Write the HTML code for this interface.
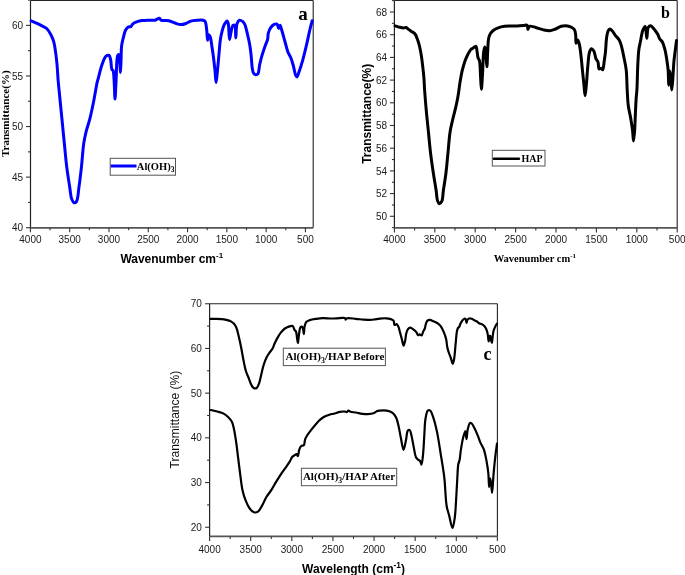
<!DOCTYPE html><html><head><meta charset="utf-8"><title>FTIR spectra</title><style>
html,body{margin:0;padding:0;background:#fff;width:685px;height:575px;overflow:hidden}
svg{display:block}
.tl{font-family:'Liberation Sans', Arial, sans-serif;font-size:10px;fill:#1a1a1a}
.fr{stroke:#222;stroke-width:1.1}
.axl{stroke:#222;stroke-width:1.2}
.axb{stroke:#555;stroke-width:1.8}
.tk{stroke:#333;stroke-width:1.1}
.cv{fill:none;stroke-linejoin:round;stroke-linecap:round}
.sb{font-family:'Liberation Serif', 'Times New Roman', serif;font-weight:bold;fill:#000}
.nb{font-family:'Liberation Sans', Arial, sans-serif;font-weight:bold;fill:#000}
.nr{font-family:'Liberation Sans', Arial, sans-serif;fill:#111}
.lg{fill:#fff;stroke:#555;stroke-width:1}
</style></head><body>
<svg width="685" height="575" viewBox="0 0 685 575">
<rect width="685" height="575" fill="#fff"/>
<g class="ax">
<line x1="30.5" y1="0.5" x2="313.2" y2="0.5" class="fr"/>
<line x1="313.2" y1="0.5" x2="313.2" y2="227.8" class="fr"/>
<line x1="30.5" y1="0.5" x2="30.5" y2="227.8" class="axl"/>
<line x1="30.5" y1="227.8" x2="313.2" y2="227.8" class="axb"/>
<line x1="30.40" y1="227.8" x2="30.40" y2="232.3" class="tk"/>
<text x="30.40" y="243.2" class="tl" text-anchor="middle">4000</text>
<line x1="69.69" y1="227.8" x2="69.69" y2="232.3" class="tk"/>
<text x="69.69" y="243.2" class="tl" text-anchor="middle">3500</text>
<line x1="108.98" y1="227.8" x2="108.98" y2="232.3" class="tk"/>
<text x="108.98" y="243.2" class="tl" text-anchor="middle">3000</text>
<line x1="148.27" y1="227.8" x2="148.27" y2="232.3" class="tk"/>
<text x="148.27" y="243.2" class="tl" text-anchor="middle">2500</text>
<line x1="187.57" y1="227.8" x2="187.57" y2="232.3" class="tk"/>
<text x="187.57" y="243.2" class="tl" text-anchor="middle">2000</text>
<line x1="226.86" y1="227.8" x2="226.86" y2="232.3" class="tk"/>
<text x="226.86" y="243.2" class="tl" text-anchor="middle">1500</text>
<line x1="266.15" y1="227.8" x2="266.15" y2="232.3" class="tk"/>
<text x="266.15" y="243.2" class="tl" text-anchor="middle">1000</text>
<line x1="305.44" y1="227.8" x2="305.44" y2="232.3" class="tk"/>
<text x="305.44" y="243.2" class="tl" text-anchor="middle">500</text>
<line x1="50.05" y1="227.8" x2="50.05" y2="230.3" class="tk"/>
<line x1="89.34" y1="227.8" x2="89.34" y2="230.3" class="tk"/>
<line x1="128.63" y1="227.8" x2="128.63" y2="230.3" class="tk"/>
<line x1="167.92" y1="227.8" x2="167.92" y2="230.3" class="tk"/>
<line x1="207.21" y1="227.8" x2="207.21" y2="230.3" class="tk"/>
<line x1="246.50" y1="227.8" x2="246.50" y2="230.3" class="tk"/>
<line x1="285.80" y1="227.8" x2="285.80" y2="230.3" class="tk"/>
<line x1="26.0" y1="227.70" x2="30.5" y2="227.70" class="tk"/>
<text x="23.2" y="231.30" class="tl" text-anchor="end">40</text>
<line x1="26.0" y1="177.12" x2="30.5" y2="177.12" class="tk"/>
<text x="23.2" y="180.72" class="tl" text-anchor="end">45</text>
<line x1="26.0" y1="126.55" x2="30.5" y2="126.55" class="tk"/>
<text x="23.2" y="130.15" class="tl" text-anchor="end">50</text>
<line x1="26.0" y1="75.97" x2="30.5" y2="75.97" class="tk"/>
<text x="23.2" y="79.57" class="tl" text-anchor="end">55</text>
<line x1="26.0" y1="25.40" x2="30.5" y2="25.40" class="tk"/>
<text x="23.2" y="29.00" class="tl" text-anchor="end">60</text>
<line x1="28.0" y1="202.41" x2="30.5" y2="202.41" class="tk"/>
<line x1="28.0" y1="151.84" x2="30.5" y2="151.84" class="tk"/>
<line x1="28.0" y1="101.26" x2="30.5" y2="101.26" class="tk"/>
<line x1="28.0" y1="50.69" x2="30.5" y2="50.69" class="tk"/>
<line x1="28.0" y1="0.11" x2="30.5" y2="0.11" class="tk"/>
</g>
<path class="cv" d="M31.10,20.90 C32.08,21.32 35.08,22.51 37.00,23.40 C38.88,24.28 40.80,25.30 42.50,26.20 C44.00,26.99 45.43,27.33 46.70,28.50 C48.30,29.97 49.73,32.59 50.90,34.80 C52.06,36.99 52.94,39.08 53.70,41.70 C54.64,44.94 55.14,49.05 55.70,52.90 C56.29,56.94 56.71,61.07 57.10,65.40 C57.52,70.07 57.70,75.16 58.10,80.00 C58.50,84.79 58.97,88.90 59.50,94.30 C60.19,101.35 61.10,110.58 61.90,118.70 C62.70,126.81 63.48,134.89 64.30,143.00 C65.12,151.13 65.84,159.73 66.80,167.40 C67.66,174.27 68.80,181.18 69.70,186.90 C70.41,191.42 70.62,196.20 71.70,199.00 C72.35,200.68 73.17,202.45 74.10,202.70 C74.82,202.90 75.83,202.40 76.50,201.50 C78.07,199.39 78.23,192.13 79.00,186.90 C79.89,180.88 80.64,174.27 81.40,167.40 C82.25,159.73 82.78,149.70 83.80,143.00 C84.52,138.24 85.29,134.92 86.30,130.90 C87.32,126.82 88.77,123.13 89.90,118.70 C91.23,113.52 92.42,107.57 93.60,101.70 C94.86,95.43 96.34,85.98 97.20,82.20 C97.56,80.63 97.69,80.38 98.10,78.90 C98.94,75.83 100.50,68.87 102.00,64.80 C103.21,61.52 104.39,57.54 106.00,56.20 C106.94,55.42 108.34,54.99 109.10,55.40 C110.05,55.91 110.27,58.24 110.70,60.10 C111.30,62.67 111.09,68.13 111.90,69.50 C112.21,70.02 112.70,69.77 113.00,70.30 C113.83,71.74 113.79,76.52 114.10,80.40 C114.51,85.66 114.67,99.00 115.00,99.00 C115.33,99.00 115.69,87.06 116.10,80.40 C116.58,72.68 116.32,57.90 117.70,55.40 C118.02,54.82 118.50,54.47 118.80,54.60 C119.48,54.89 119.45,59.08 119.70,61.70 C120.01,64.94 120.18,72.60 120.40,72.60 C120.62,72.60 120.82,65.66 121.00,61.70 C121.22,56.94 121.08,50.31 121.60,46.00 C121.97,42.93 122.56,40.80 123.20,38.20 C123.85,35.56 124.50,32.26 125.50,30.30 C126.19,28.95 126.92,27.85 127.90,27.20 C128.79,26.62 130.21,26.95 131.00,26.40 C131.74,25.88 131.81,24.79 132.60,24.10 C133.68,23.15 135.70,22.29 137.30,21.70 C138.83,21.14 140.31,20.85 142.00,20.60 C143.91,20.32 146.08,20.27 148.20,20.20 C150.41,20.13 153.02,20.61 155.00,20.20 C156.67,19.86 158.36,18.05 159.40,18.30 C160.15,18.48 160.13,19.76 161.00,20.20 C162.54,20.98 166.38,20.19 168.80,20.70 C171.02,21.17 172.98,22.33 175.00,23.00 C176.88,23.62 178.66,24.52 180.50,24.60 C182.32,24.68 184.28,24.10 186.00,23.50 C187.67,22.92 188.97,21.65 190.70,21.10 C192.60,20.50 194.90,20.35 197.00,20.20 C199.07,20.05 201.77,19.79 203.20,20.20 C204.06,20.45 204.59,20.65 205.10,21.40 C206.11,22.89 206.29,27.00 206.70,30.00 C207.14,33.24 207.19,40.18 207.60,40.20 C207.91,40.22 208.11,34.82 208.70,34.70 C209.12,34.62 209.86,35.99 210.30,37.10 C211.07,39.03 211.31,42.65 211.80,45.70 C212.35,49.14 212.89,52.81 213.40,56.70 C213.97,61.08 214.54,66.23 215.00,70.70 C215.43,74.80 215.70,82.50 216.10,82.50 C216.47,82.50 216.90,76.14 217.30,72.30 C217.83,67.31 218.37,60.70 218.90,55.10 C219.40,49.75 219.75,43.71 220.40,39.40 C220.86,36.34 221.33,34.11 222.00,31.60 C222.64,29.18 223.27,26.46 224.30,24.60 C225.11,23.14 226.52,20.99 227.20,21.10 C227.75,21.18 227.99,22.49 228.30,23.80 C229.01,26.82 228.93,39.36 229.50,39.40 C229.86,39.42 230.35,35.27 230.80,33.20 C231.25,31.11 231.67,28.28 232.20,26.90 C232.48,26.16 232.66,25.56 233.10,25.30 C233.51,25.06 234.27,24.91 234.70,25.30 C235.90,26.40 235.43,37.90 235.80,37.90 C236.19,37.90 235.93,26.87 237.00,23.80 C237.59,22.10 238.40,20.52 239.40,20.20 C240.28,19.92 241.61,20.73 242.50,21.40 C243.47,22.14 244.21,23.19 244.90,24.60 C245.92,26.70 246.46,30.15 247.20,33.20 C248.03,36.61 248.95,40.45 249.60,44.10 C250.25,47.75 250.68,51.31 251.10,55.10 C251.55,59.13 251.67,64.29 252.20,67.60 C252.56,69.82 252.68,71.90 253.50,73.10 C254.08,73.95 255.03,74.61 255.80,74.70 C256.49,74.78 257.33,74.58 257.90,73.90 C259.07,72.51 259.00,67.62 259.70,64.50 C260.40,61.36 261.19,58.22 262.10,55.10 C263.02,51.95 264.20,48.51 265.20,45.70 C266.02,43.38 267.08,41.52 267.60,39.40 C268.10,37.36 267.77,35.17 268.30,33.20 C268.82,31.27 269.68,29.20 270.70,27.70 C271.57,26.42 272.65,25.18 273.80,24.60 C274.78,24.10 276.19,23.64 277.00,24.10 C277.98,24.65 278.25,28.50 278.80,28.50 C279.27,28.50 279.66,25.29 280.10,25.30 C280.63,25.32 281.11,28.10 281.70,30.00 C282.60,32.89 283.77,37.33 284.80,41.00 C285.83,44.67 286.70,48.90 287.90,52.00 C288.83,54.41 290.11,55.98 291.00,58.20 C291.97,60.61 292.65,63.27 293.40,66.00 C294.22,68.98 294.82,73.62 295.70,75.40 C296.11,76.22 296.58,77.06 297.00,77.00 C297.66,76.90 298.20,74.26 298.90,72.30 C300.03,69.15 301.56,64.22 302.80,59.80 C304.18,54.88 305.51,49.20 306.70,44.10 C307.83,39.28 308.80,34.20 309.80,30.00 C310.62,26.57 311.80,22.25 312.20,20.70" stroke="#0000ff" stroke-width="3"/>
<text class="nb" x="120.4" y="262.8" font-size="12">Wavenumber cm<tspan dy="-4.5" font-size="8">-1</tspan></text>
<text class="sb" transform="translate(8.5,113.7) rotate(-90)" text-anchor="middle" font-size="11">Transmittance(%)</text>
<text class="sb" x="298.3" y="19.8" font-size="19">a</text>
<rect class="lg" x="110.2" y="158.3" width="65.3" height="16.9"/>
<line x1="110.7" y1="166" x2="136.5" y2="166" stroke="#0000ff" stroke-width="3"/>
<text class="sb" x="136.8" y="169.7" font-size="10.5">Al(OH)<tspan dy="2.6" font-size="7.5">3</tspan></text>
<g class="ax">
<line x1="394.4" y1="0.5" x2="677.2" y2="0.5" class="fr"/>
<line x1="677.2" y1="0.5" x2="677.2" y2="227.9" class="fr"/>
<line x1="394.4" y1="0.5" x2="394.4" y2="227.9" class="axl"/>
<line x1="394.4" y1="227.9" x2="677.2" y2="227.9" class="axb"/>
<line x1="394.40" y1="227.9" x2="394.40" y2="232.4" class="tk"/>
<text x="394.40" y="243.0" class="tl" text-anchor="middle">4000</text>
<line x1="434.80" y1="227.9" x2="434.80" y2="232.4" class="tk"/>
<text x="434.80" y="243.0" class="tl" text-anchor="middle">3500</text>
<line x1="475.20" y1="227.9" x2="475.20" y2="232.4" class="tk"/>
<text x="475.20" y="243.0" class="tl" text-anchor="middle">3000</text>
<line x1="515.60" y1="227.9" x2="515.60" y2="232.4" class="tk"/>
<text x="515.60" y="243.0" class="tl" text-anchor="middle">2500</text>
<line x1="556.00" y1="227.9" x2="556.00" y2="232.4" class="tk"/>
<text x="556.00" y="243.0" class="tl" text-anchor="middle">2000</text>
<line x1="596.40" y1="227.9" x2="596.40" y2="232.4" class="tk"/>
<text x="596.40" y="243.0" class="tl" text-anchor="middle">1500</text>
<line x1="636.80" y1="227.9" x2="636.80" y2="232.4" class="tk"/>
<text x="636.80" y="243.0" class="tl" text-anchor="middle">1000</text>
<line x1="677.20" y1="227.9" x2="677.20" y2="232.4" class="tk"/>
<text x="677.20" y="243.0" class="tl" text-anchor="middle">500</text>
<line x1="414.60" y1="227.9" x2="414.60" y2="230.4" class="tk"/>
<line x1="455.00" y1="227.9" x2="455.00" y2="230.4" class="tk"/>
<line x1="495.40" y1="227.9" x2="495.40" y2="230.4" class="tk"/>
<line x1="535.80" y1="227.9" x2="535.80" y2="230.4" class="tk"/>
<line x1="576.20" y1="227.9" x2="576.20" y2="230.4" class="tk"/>
<line x1="616.60" y1="227.9" x2="616.60" y2="230.4" class="tk"/>
<line x1="657.00" y1="227.9" x2="657.00" y2="230.4" class="tk"/>
<line x1="389.9" y1="216.30" x2="394.4" y2="216.30" class="tk"/>
<text x="387.0" y="219.90" class="tl" text-anchor="end">50</text>
<line x1="389.9" y1="193.60" x2="394.4" y2="193.60" class="tk"/>
<text x="387.0" y="197.20" class="tl" text-anchor="end">52</text>
<line x1="389.9" y1="170.90" x2="394.4" y2="170.90" class="tk"/>
<text x="387.0" y="174.50" class="tl" text-anchor="end">54</text>
<line x1="389.9" y1="148.20" x2="394.4" y2="148.20" class="tk"/>
<text x="387.0" y="151.80" class="tl" text-anchor="end">56</text>
<line x1="389.9" y1="125.50" x2="394.4" y2="125.50" class="tk"/>
<text x="387.0" y="129.10" class="tl" text-anchor="end">58</text>
<line x1="389.9" y1="102.80" x2="394.4" y2="102.80" class="tk"/>
<text x="387.0" y="106.40" class="tl" text-anchor="end">60</text>
<line x1="389.9" y1="80.10" x2="394.4" y2="80.10" class="tk"/>
<text x="387.0" y="83.70" class="tl" text-anchor="end">62</text>
<line x1="389.9" y1="57.40" x2="394.4" y2="57.40" class="tk"/>
<text x="387.0" y="61.00" class="tl" text-anchor="end">64</text>
<line x1="389.9" y1="34.70" x2="394.4" y2="34.70" class="tk"/>
<text x="387.0" y="38.30" class="tl" text-anchor="end">66</text>
<line x1="389.9" y1="12.00" x2="394.4" y2="12.00" class="tk"/>
<text x="387.0" y="15.60" class="tl" text-anchor="end">68</text>
<line x1="391.9" y1="227.65" x2="394.4" y2="227.65" class="tk"/>
<line x1="391.9" y1="204.95" x2="394.4" y2="204.95" class="tk"/>
<line x1="391.9" y1="182.25" x2="394.4" y2="182.25" class="tk"/>
<line x1="391.9" y1="159.55" x2="394.4" y2="159.55" class="tk"/>
<line x1="391.9" y1="136.85" x2="394.4" y2="136.85" class="tk"/>
<line x1="391.9" y1="114.15" x2="394.4" y2="114.15" class="tk"/>
<line x1="391.9" y1="91.45" x2="394.4" y2="91.45" class="tk"/>
<line x1="391.9" y1="68.75" x2="394.4" y2="68.75" class="tk"/>
<line x1="391.9" y1="46.05" x2="394.4" y2="46.05" class="tk"/>
<line x1="391.9" y1="23.35" x2="394.4" y2="23.35" class="tk"/>
<line x1="391.9" y1="0.65" x2="394.4" y2="0.65" class="tk"/>
</g>
<path class="cv" d="M395.10,25.90 C395.85,26.12 398.13,26.86 399.60,27.20 C400.99,27.52 402.50,27.89 403.70,27.90 C404.64,27.90 405.48,27.31 406.20,27.50 C406.87,27.68 407.22,28.38 407.90,28.90 C408.85,29.63 410.23,30.58 411.40,31.40 C412.56,32.21 413.92,32.63 414.90,33.80 C416.14,35.28 416.91,37.84 417.70,40.00 C418.52,42.23 419.10,44.46 419.70,47.00 C420.39,49.96 420.98,53.34 421.50,56.70 C422.06,60.29 422.49,64.30 422.90,67.90 C423.28,71.25 423.63,74.17 423.90,77.60 C424.21,81.48 424.28,85.33 424.60,90.00 C425.02,96.06 425.67,103.94 426.30,110.90 C426.93,117.84 427.70,124.76 428.40,131.70 C429.10,138.66 429.67,145.64 430.50,152.60 C431.33,159.57 432.41,166.93 433.40,173.50 C434.28,179.38 435.37,185.29 436.10,190.20 C436.67,194.07 436.71,198.20 437.50,200.60 C437.96,201.99 438.48,203.57 439.20,203.70 C439.89,203.83 441.05,202.76 441.70,201.60 C442.92,199.42 442.78,194.36 443.40,190.20 C444.15,185.16 445.16,179.39 445.90,173.50 C446.72,166.93 447.30,159.57 448.00,152.60 C448.70,145.63 449.15,137.75 450.10,131.70 C450.84,126.98 451.84,123.36 452.80,119.20 C453.77,115.03 455.00,110.68 455.90,106.70 C456.71,103.08 457.35,100.06 458.00,96.30 C458.77,91.88 459.35,86.30 460.10,81.80 C460.76,77.85 461.36,74.27 462.20,70.70 C463.00,67.31 463.97,63.76 465.00,60.90 C465.84,58.57 466.66,56.68 467.70,54.70 C468.73,52.75 470.24,49.88 471.20,49.10 C471.60,48.77 471.85,48.93 472.30,48.70 C473.17,48.26 475.11,45.99 475.90,46.30 C476.73,46.63 476.66,49.27 477.00,51.00 C477.41,53.09 477.53,56.31 478.10,58.00 C478.45,59.05 479.04,59.18 479.40,60.40 C480.29,63.47 480.24,72.42 480.60,77.60 C480.90,81.87 481.11,89.30 481.40,89.30 C481.73,89.30 482.14,80.00 482.50,74.50 C482.95,67.57 483.05,55.51 483.80,51.00 C484.11,49.13 484.58,47.08 484.90,47.10 C485.37,47.13 485.68,52.65 486.00,55.70 C486.36,59.14 486.63,66.70 486.90,66.70 C487.22,66.70 487.41,55.85 487.70,51.00 C487.95,46.81 487.89,42.44 488.50,39.30 C488.93,37.09 489.40,35.35 490.30,33.80 C491.12,32.40 492.23,31.28 493.50,30.30 C494.84,29.26 496.48,28.45 498.20,27.80 C500.08,27.08 502.31,26.60 504.40,26.30 C506.48,26.00 508.60,26.05 510.70,26.00 C512.80,25.95 514.91,26.07 517.00,26.00 C519.08,25.93 521.37,25.75 523.20,25.60 C524.65,25.48 526.31,24.61 527.10,25.20 C527.92,25.81 527.46,29.34 527.90,29.40 C528.29,29.46 528.54,26.77 529.50,26.30 C530.79,25.67 533.52,26.96 535.70,27.50 C538.19,28.12 541.10,29.36 543.60,29.90 C545.77,30.37 547.89,30.84 549.80,30.70 C551.49,30.58 552.82,30.01 554.50,29.40 C556.59,28.64 559.03,26.85 561.30,26.30 C563.37,25.80 565.69,25.77 567.50,26.00 C568.97,26.18 570.22,26.56 571.40,27.20 C572.59,27.85 573.88,28.69 574.60,29.90 C575.42,31.29 575.45,33.32 575.70,35.30 C576.00,37.67 575.57,43.09 576.10,43.20 C576.45,43.27 577.19,39.98 577.70,40.00 C578.26,40.02 578.85,42.33 579.30,44.00 C579.99,46.57 580.33,50.36 580.80,54.10 C581.38,58.75 581.87,64.58 582.40,69.80 C582.93,75.01 583.51,80.75 584.00,85.40 C584.40,89.16 584.72,95.60 585.10,95.60 C585.48,95.60 585.91,89.38 586.30,85.40 C586.85,79.79 587.31,71.05 587.90,65.10 C588.36,60.43 588.54,55.54 589.40,52.60 C589.91,50.88 590.50,48.85 591.30,48.70 C592.01,48.57 593.11,49.87 593.80,51.00 C594.87,52.74 595.12,56.82 596.00,58.80 C596.60,60.15 597.50,60.66 598.00,62.00 C598.68,63.83 598.17,68.46 599.10,69.00 C599.62,69.30 600.60,68.06 601.20,68.20 C601.80,68.34 602.28,69.93 602.70,69.80 C603.58,69.54 603.83,63.39 604.30,60.40 C604.72,57.68 605.06,55.66 605.40,52.60 C605.88,48.28 606.05,40.92 606.70,36.90 C607.11,34.34 607.45,32.03 608.20,30.70 C608.65,29.91 609.19,29.15 609.80,29.10 C610.48,29.04 611.34,29.94 612.10,30.70 C613.18,31.78 614.15,33.78 615.30,35.30 C616.50,36.88 618.18,38.22 619.20,40.00 C620.27,41.87 620.80,43.88 621.50,46.30 C622.41,49.43 623.14,53.51 623.90,57.30 C624.71,61.33 625.66,65.12 626.20,69.80 C626.89,75.71 626.82,83.69 627.20,90.00 C627.53,95.56 627.66,100.78 628.30,105.70 C628.88,110.12 629.98,114.02 630.70,118.20 C631.42,122.38 632.12,126.83 632.60,130.80 C633.02,134.35 633.17,140.90 633.50,140.90 C633.83,140.90 634.30,134.62 634.60,130.80 C634.99,125.81 635.13,119.13 635.40,113.50 C635.66,108.14 635.90,102.12 636.20,97.80 C636.41,94.75 636.69,93.34 636.90,90.00 C637.28,84.01 637.41,72.29 637.80,64.90 C638.11,59.05 638.31,53.53 638.90,49.20 C639.32,46.10 639.91,44.14 640.50,41.30 C641.19,37.96 641.74,33.05 642.80,30.40 C643.48,28.70 644.58,26.37 645.20,26.50 C646.20,26.71 646.28,38.20 646.80,38.20 C647.31,38.20 647.08,29.09 648.30,27.20 C648.92,26.25 649.89,25.61 650.70,25.70 C651.71,25.82 652.76,27.57 653.80,28.80 C655.09,30.33 656.67,32.49 657.70,34.30 C658.60,35.88 658.95,37.65 659.80,39.00 C660.55,40.20 661.65,40.77 662.40,42.10 C663.42,43.91 664.09,46.47 664.80,49.20 C665.72,52.75 666.52,57.82 667.10,61.70 C667.60,65.05 667.94,67.64 668.20,71.10 C668.52,75.32 668.43,85.19 668.70,85.20 C668.97,85.21 669.34,71.12 669.80,71.10 C670.15,71.09 670.68,76.07 671.00,78.90 C671.38,82.25 671.50,89.90 671.80,89.90 C672.12,89.90 672.57,81.81 672.90,77.40 C673.27,72.47 673.45,66.63 673.90,61.70 C674.30,57.29 674.93,52.98 675.40,49.20 C675.79,46.07 676.32,42.03 676.50,40.60" stroke="#000" stroke-width="3"/>
<text class="sb" x="493.7" y="261.9" font-size="10.5">Wavenumber cm<tspan dy="-4" font-size="7">-1</tspan></text>
<text class="nb" transform="translate(371.2,113.8) rotate(-90)" text-anchor="middle" font-size="12">Transmittance(%)</text>
<text class="sb" x="661" y="18.2" font-size="16">b</text>
<rect class="lg" x="492.3" y="150.3" width="52.7" height="15.7"/>
<line x1="494" y1="158.7" x2="518.9" y2="158.7" stroke="#000" stroke-width="2.6" stroke-linecap="round"/>
<text class="sb" x="521.5" y="161.9" font-size="10">HAP</text>
<g class="ax">
<line x1="209.6" y1="303.75" x2="497.4" y2="303.75" class="fr"/>
<line x1="497.4" y1="303.75" x2="497.4" y2="536.4" class="fr"/>
<line x1="209.6" y1="303.75" x2="209.6" y2="536.4" class="axl"/>
<line x1="209.6" y1="536.4" x2="497.4" y2="536.4" class="axb"/>
<line x1="209.60" y1="536.4" x2="209.60" y2="540.9" class="tk"/>
<text x="209.60" y="553.0" class="tl" text-anchor="middle">4000</text>
<line x1="250.71" y1="536.4" x2="250.71" y2="540.9" class="tk"/>
<text x="250.71" y="553.0" class="tl" text-anchor="middle">3500</text>
<line x1="291.83" y1="536.4" x2="291.83" y2="540.9" class="tk"/>
<text x="291.83" y="553.0" class="tl" text-anchor="middle">3000</text>
<line x1="332.94" y1="536.4" x2="332.94" y2="540.9" class="tk"/>
<text x="332.94" y="553.0" class="tl" text-anchor="middle">2500</text>
<line x1="374.06" y1="536.4" x2="374.06" y2="540.9" class="tk"/>
<text x="374.06" y="553.0" class="tl" text-anchor="middle">2000</text>
<line x1="415.17" y1="536.4" x2="415.17" y2="540.9" class="tk"/>
<text x="415.17" y="553.0" class="tl" text-anchor="middle">1500</text>
<line x1="456.29" y1="536.4" x2="456.29" y2="540.9" class="tk"/>
<text x="456.29" y="553.0" class="tl" text-anchor="middle">1000</text>
<line x1="497.40" y1="536.4" x2="497.40" y2="540.9" class="tk"/>
<text x="497.40" y="553.0" class="tl" text-anchor="middle">500</text>
<line x1="230.16" y1="536.4" x2="230.16" y2="538.9" class="tk"/>
<line x1="271.27" y1="536.4" x2="271.27" y2="538.9" class="tk"/>
<line x1="312.39" y1="536.4" x2="312.39" y2="538.9" class="tk"/>
<line x1="353.50" y1="536.4" x2="353.50" y2="538.9" class="tk"/>
<line x1="394.61" y1="536.4" x2="394.61" y2="538.9" class="tk"/>
<line x1="435.73" y1="536.4" x2="435.73" y2="538.9" class="tk"/>
<line x1="476.84" y1="536.4" x2="476.84" y2="538.9" class="tk"/>
<line x1="205.1" y1="527.25" x2="209.6" y2="527.25" class="tk"/>
<text x="201.9" y="530.85" class="tl" text-anchor="end">20</text>
<line x1="205.1" y1="482.55" x2="209.6" y2="482.55" class="tk"/>
<text x="201.9" y="486.15" class="tl" text-anchor="end">30</text>
<line x1="205.1" y1="437.85" x2="209.6" y2="437.85" class="tk"/>
<text x="201.9" y="441.45" class="tl" text-anchor="end">40</text>
<line x1="205.1" y1="393.15" x2="209.6" y2="393.15" class="tk"/>
<text x="201.9" y="396.75" class="tl" text-anchor="end">50</text>
<line x1="205.1" y1="348.45" x2="209.6" y2="348.45" class="tk"/>
<text x="201.9" y="352.05" class="tl" text-anchor="end">60</text>
<line x1="205.1" y1="303.75" x2="209.6" y2="303.75" class="tk"/>
<text x="201.9" y="307.35" class="tl" text-anchor="end">70</text>
<line x1="207.1" y1="504.90" x2="209.6" y2="504.90" class="tk"/>
<line x1="207.1" y1="460.20" x2="209.6" y2="460.20" class="tk"/>
<line x1="207.1" y1="415.50" x2="209.6" y2="415.50" class="tk"/>
<line x1="207.1" y1="370.80" x2="209.6" y2="370.80" class="tk"/>
<line x1="207.1" y1="326.10" x2="209.6" y2="326.10" class="tk"/>
</g>
<path class="cv" d="M210.30,318.80 C211.38,318.80 214.81,318.74 216.80,318.80 C218.49,318.85 219.94,318.92 221.50,319.10 C223.07,319.28 224.65,319.52 226.20,319.90 C227.78,320.28 229.55,320.69 230.90,321.40 C232.10,322.03 233.11,322.81 234.00,323.80 C234.96,324.87 235.70,326.08 236.40,327.70 C237.37,329.95 237.96,333.25 238.70,336.30 C239.53,339.73 240.34,343.51 241.10,347.30 C241.91,351.33 242.59,355.78 243.40,359.80 C244.16,363.56 244.79,367.39 245.80,370.70 C246.68,373.58 247.94,376.12 248.90,378.60 C249.75,380.79 250.39,383.12 251.30,384.80 C252.00,386.09 252.62,387.50 253.60,388.00 C254.47,388.44 255.85,388.52 256.70,388.00 C257.81,387.32 258.40,385.18 259.10,383.30 C260.05,380.75 260.62,377.03 261.40,373.90 C262.18,370.76 262.84,367.46 263.80,364.50 C264.69,361.75 265.74,358.92 266.90,356.70 C267.85,354.88 269.01,353.40 270.00,352.00 C270.83,350.82 271.68,350.06 272.40,348.80 C273.28,347.26 273.83,345.17 274.70,343.30 C275.64,341.28 276.79,339.00 277.90,337.10 C278.90,335.40 279.83,333.84 281.00,332.40 C282.16,330.98 283.51,329.49 284.90,328.50 C286.13,327.62 287.48,327.02 288.80,326.60 C290.05,326.21 291.65,325.51 292.60,326.00 C293.63,326.53 293.93,329.07 294.60,330.00 C295.03,330.60 295.54,330.60 295.90,331.30 C296.65,332.76 296.83,337.03 297.20,339.20 C297.46,340.73 297.67,343.11 297.90,343.10 C298.23,343.09 298.47,337.83 298.90,335.20 C299.33,332.56 299.54,328.43 300.50,327.30 C300.94,326.78 301.69,326.51 302.10,326.70 C302.63,326.94 302.83,328.28 303.10,329.30 C303.45,330.66 303.57,334.20 303.80,334.20 C304.10,334.20 304.13,328.25 304.70,326.00 C305.12,324.33 305.49,322.79 306.40,321.80 C307.22,320.90 308.37,320.56 309.70,320.10 C311.49,319.48 314.10,319.13 316.30,318.80 C318.47,318.47 320.44,318.18 322.80,318.10 C325.60,318.01 329.05,318.51 332.00,318.50 C334.73,318.49 337.53,318.16 339.90,318.10 C341.84,318.05 344.41,317.49 345.20,318.10 C345.64,318.44 345.38,319.66 345.60,319.70 C345.82,319.74 345.92,318.69 346.50,318.40 C347.91,317.70 352.75,318.57 355.70,318.80 C358.44,319.02 361.09,319.54 363.60,319.70 C365.87,319.85 368.20,319.86 370.10,319.80 C371.60,319.76 372.66,319.67 374.10,319.50 C375.81,319.30 377.77,318.80 379.70,318.60 C381.73,318.39 384.06,318.18 386.00,318.30 C387.69,318.40 389.37,318.62 390.70,319.10 C391.79,319.49 392.85,319.85 393.50,320.70 C394.26,321.70 393.89,324.66 394.60,325.00 C395.10,325.24 396.00,323.93 396.60,324.10 C397.34,324.31 397.97,325.76 398.50,326.90 C399.18,328.38 399.47,330.46 400.00,332.40 C400.60,334.59 401.29,337.13 401.90,339.40 C402.48,341.56 403.03,345.69 403.60,345.70 C404.10,345.71 404.68,342.78 405.10,341.00 C405.63,338.75 405.71,335.33 406.30,333.20 C406.73,331.65 407.14,330.24 407.90,329.30 C408.52,328.53 409.36,327.76 410.20,327.70 C411.14,327.64 412.31,328.59 413.30,329.30 C414.42,330.10 415.69,331.34 416.50,332.40 C417.18,333.28 417.38,334.89 418.00,335.10 C418.47,335.26 419.04,334.37 419.60,334.40 C420.24,334.43 421.05,335.69 421.60,335.50 C422.35,335.24 422.64,332.81 423.20,331.60 C423.71,330.50 424.37,329.67 424.80,328.50 C425.31,327.12 425.41,325.18 425.90,323.80 C426.31,322.63 426.67,321.34 427.40,320.70 C428.03,320.15 428.91,319.88 429.80,319.90 C430.95,319.93 432.36,320.80 433.70,321.40 C435.21,322.07 437.16,322.90 438.40,323.80 C439.37,324.51 439.95,325.07 440.70,326.10 C441.80,327.62 442.99,330.21 443.90,332.40 C444.83,334.64 445.64,336.97 446.20,339.40 C446.79,341.93 446.83,345.02 447.30,347.30 C447.67,349.08 448.06,350.34 448.60,352.00 C449.23,353.94 450.18,356.19 450.90,358.20 C451.57,360.08 452.25,363.71 452.80,363.70 C453.26,363.69 453.64,361.56 454.00,359.80 C454.70,356.34 455.08,349.09 455.60,344.10 C456.08,339.56 456.40,333.92 457.00,331.10 C457.30,329.69 457.52,328.66 458.00,328.00 C458.31,327.58 458.77,327.63 459.10,327.20 C459.64,326.49 459.87,324.80 460.40,323.70 C460.91,322.64 461.51,321.56 462.20,320.70 C462.83,319.92 463.65,318.90 464.30,318.70 C464.72,318.57 465.18,318.60 465.50,318.90 C466.09,319.44 466.16,322.79 466.50,322.80 C466.80,322.81 466.89,320.54 467.40,319.80 C467.82,319.19 468.43,318.70 469.10,318.50 C469.84,318.28 470.86,318.44 471.70,318.70 C472.60,318.98 473.42,319.73 474.30,320.20 C475.18,320.67 476.19,320.97 477.00,321.50 C477.78,322.01 478.45,322.94 479.10,323.30 C479.56,323.55 479.91,323.53 480.40,323.70 C481.04,323.93 481.94,324.22 482.60,324.60 C483.23,324.96 483.80,325.37 484.30,325.90 C484.84,326.48 485.28,327.21 485.70,328.00 C486.19,328.91 486.65,330.02 487.00,331.10 C487.36,332.22 487.58,333.31 487.80,334.60 C488.07,336.16 488.22,338.54 488.40,339.80 C488.51,340.52 488.58,341.50 488.70,341.50 C488.92,341.50 489.06,336.36 489.60,335.90 C489.77,335.75 490.03,335.76 490.20,335.90 C490.64,336.26 490.59,338.60 490.90,339.80 C491.17,340.88 491.63,342.83 491.90,342.80 C492.25,342.76 492.34,339.11 492.60,337.20 C492.87,335.21 493.06,332.83 493.50,331.10 C493.85,329.75 494.34,328.67 494.80,327.60 C495.21,326.66 495.68,325.71 496.10,325.00 C496.41,324.48 496.85,323.92 497.00,323.70" stroke="#000" stroke-width="2.2"/>
<path class="cv" d="M210.70,410.00 C211.80,410.25 215.14,410.90 217.30,411.50 C219.44,412.10 221.68,412.57 223.60,413.60 C225.52,414.63 227.35,416.23 228.80,417.70 C230.09,419.02 231.17,420.21 232.00,421.90 C233.00,423.92 233.39,426.42 234.00,429.20 C234.79,432.79 235.44,437.22 236.10,441.70 C236.86,446.86 237.50,452.83 238.20,458.40 C238.90,463.97 239.58,469.72 240.30,475.10 C240.98,480.13 241.43,485.27 242.40,489.70 C243.23,493.52 244.21,496.96 245.50,500.20 C246.69,503.19 248.08,506.38 249.70,508.50 C250.97,510.16 252.40,511.86 253.90,512.30 C255.19,512.68 256.77,512.39 258.00,511.60 C259.65,510.54 260.87,507.67 262.20,505.40 C263.69,502.86 264.81,499.64 266.40,497.00 C267.95,494.42 270.01,492.17 271.60,489.70 C273.14,487.30 274.30,484.90 275.80,482.40 C277.42,479.71 279.23,476.75 281.00,474.10 C282.70,471.56 284.62,469.09 286.20,466.80 C287.58,464.79 288.97,462.85 290.00,461.10 C290.82,459.70 291.15,458.22 292.00,457.20 C292.73,456.32 293.77,455.74 294.60,455.20 C295.29,454.75 296.06,453.96 296.60,454.10 C297.17,454.25 297.53,456.27 297.90,456.20 C298.50,456.09 298.56,451.71 299.20,449.90 C299.73,448.40 300.29,446.74 301.20,446.00 C301.92,445.42 303.16,445.97 303.80,445.30 C304.75,444.30 304.48,441.13 305.10,439.40 C305.63,437.93 306.26,436.86 307.10,435.50 C308.13,433.83 309.58,432.04 311.00,430.20 C312.61,428.12 314.63,425.57 316.30,423.70 C317.66,422.17 318.84,420.88 320.20,419.70 C321.48,418.59 322.72,417.62 324.20,416.80 C325.77,415.93 327.64,415.25 329.40,414.70 C331.14,414.16 332.95,413.98 334.70,413.50 C336.45,413.02 338.14,412.12 339.90,411.80 C341.64,411.49 343.96,411.43 345.20,411.60 C345.90,411.69 346.29,412.22 346.80,412.10 C347.40,411.96 347.90,410.55 348.50,410.50 C349.10,410.45 349.56,411.48 350.40,411.80 C351.68,412.29 353.84,412.19 355.70,412.50 C357.78,412.84 360.22,413.52 362.30,413.80 C364.13,414.05 365.67,414.28 367.50,414.20 C369.57,414.11 372.46,413.79 374.10,413.10 C375.24,412.62 375.75,411.62 376.70,411.20 C377.62,410.79 378.48,410.72 379.70,410.60 C381.54,410.42 384.50,410.19 386.70,410.60 C388.79,410.99 391.02,411.69 392.60,412.90 C394.12,414.06 395.16,415.72 396.10,417.60 C397.23,419.87 397.77,422.80 398.50,425.80 C399.37,429.36 399.96,433.64 400.80,437.60 C401.66,441.64 402.69,449.79 403.60,449.80 C404.42,449.81 405.27,443.16 406.00,439.90 C406.70,436.73 406.76,431.67 407.90,430.50 C408.40,429.99 409.20,429.82 409.70,430.10 C410.56,430.58 410.85,433.13 411.40,435.20 C412.22,438.30 412.89,443.19 413.70,447.00 C414.46,450.61 414.93,455.32 416.10,457.50 C416.75,458.71 417.66,459.29 418.40,459.90 C418.98,460.38 419.63,460.42 420.10,461.00 C420.75,461.80 421.09,464.65 421.50,464.60 C422.19,464.52 422.67,458.05 423.10,454.00 C423.67,448.64 423.89,441.25 424.30,435.20 C424.69,429.55 424.71,423.30 425.50,418.80 C426.07,415.56 426.55,411.55 427.80,410.60 C428.46,410.10 429.47,410.12 430.20,410.60 C431.61,411.53 432.64,415.65 433.70,418.80 C435.05,422.82 436.13,427.70 437.20,432.90 C438.50,439.20 439.55,446.77 440.70,454.00 C441.92,461.62 443.34,469.29 444.30,477.50 C445.35,486.45 445.45,498.88 446.60,505.70 C447.27,509.67 448.12,511.64 449.00,515.00 C450.05,518.97 451.50,528.02 452.50,528.00 C453.40,527.98 454.22,521.39 454.80,517.40 C455.53,512.34 455.70,506.12 456.10,500.00 C456.54,493.17 456.89,484.74 457.30,478.30 C457.63,473.12 457.69,467.60 458.30,464.30 C458.64,462.43 459.23,461.74 459.60,460.00 C460.14,457.45 460.28,453.78 460.80,450.40 C461.38,446.59 462.13,441.80 463.00,438.30 C463.68,435.54 464.72,430.95 465.30,431.00 C465.90,431.05 466.11,439.10 466.50,439.10 C466.92,439.10 467.03,432.45 467.70,429.60 C468.27,427.17 468.99,423.52 470.00,423.00 C470.51,422.74 471.15,423.08 471.70,423.50 C472.62,424.21 473.42,426.12 474.30,427.80 C475.45,430.01 476.75,433.14 477.80,435.70 C478.77,438.06 479.40,440.32 480.40,442.60 C481.43,444.95 482.94,446.92 483.90,449.60 C485.07,452.86 485.77,457.05 486.50,460.90 C487.25,464.85 487.87,468.81 488.30,473.00 C488.76,477.49 488.77,486.99 489.10,487.00 C489.36,487.01 489.59,478.33 490.00,478.30 C490.26,478.28 490.63,480.22 490.90,481.70 C491.39,484.36 491.71,493.01 492.10,493.00 C492.59,492.99 492.98,480.80 493.50,474.80 C494.01,468.93 494.58,462.87 495.20,457.40 C495.76,452.50 496.70,445.82 497.00,443.50" stroke="#000" stroke-width="2.2"/>
<text class="nb" x="302" y="572.6" font-size="12">Wavelength (cm<tspan dy="-4.6" font-size="8.3">-1</tspan><tspan dy="4.6">)</tspan></text>
<text class="nr" transform="translate(178.7,419.6) rotate(-90)" text-anchor="middle" font-size="12">Transmittance (%)</text>
<text class="sb" x="483.6" y="359.9" font-size="18">c</text>
<rect class="lg" x="283.3" y="348.2" width="102.1" height="17.4"/>
<text class="sb" x="285.6" y="360.3" font-size="11">Al(OH)<tspan dy="2.5" font-size="7.8">3</tspan><tspan dy="-2.5">/HAP Before</tspan></text>
<rect class="lg" x="301.4" y="468.3" width="95.3" height="17.4"/>
<text class="sb" x="302.9" y="480.2" font-size="11">Al(OH)<tspan dy="2.5" font-size="7.8">3</tspan><tspan dy="-2.5">/HAP After</tspan></text>
</svg></body></html>
